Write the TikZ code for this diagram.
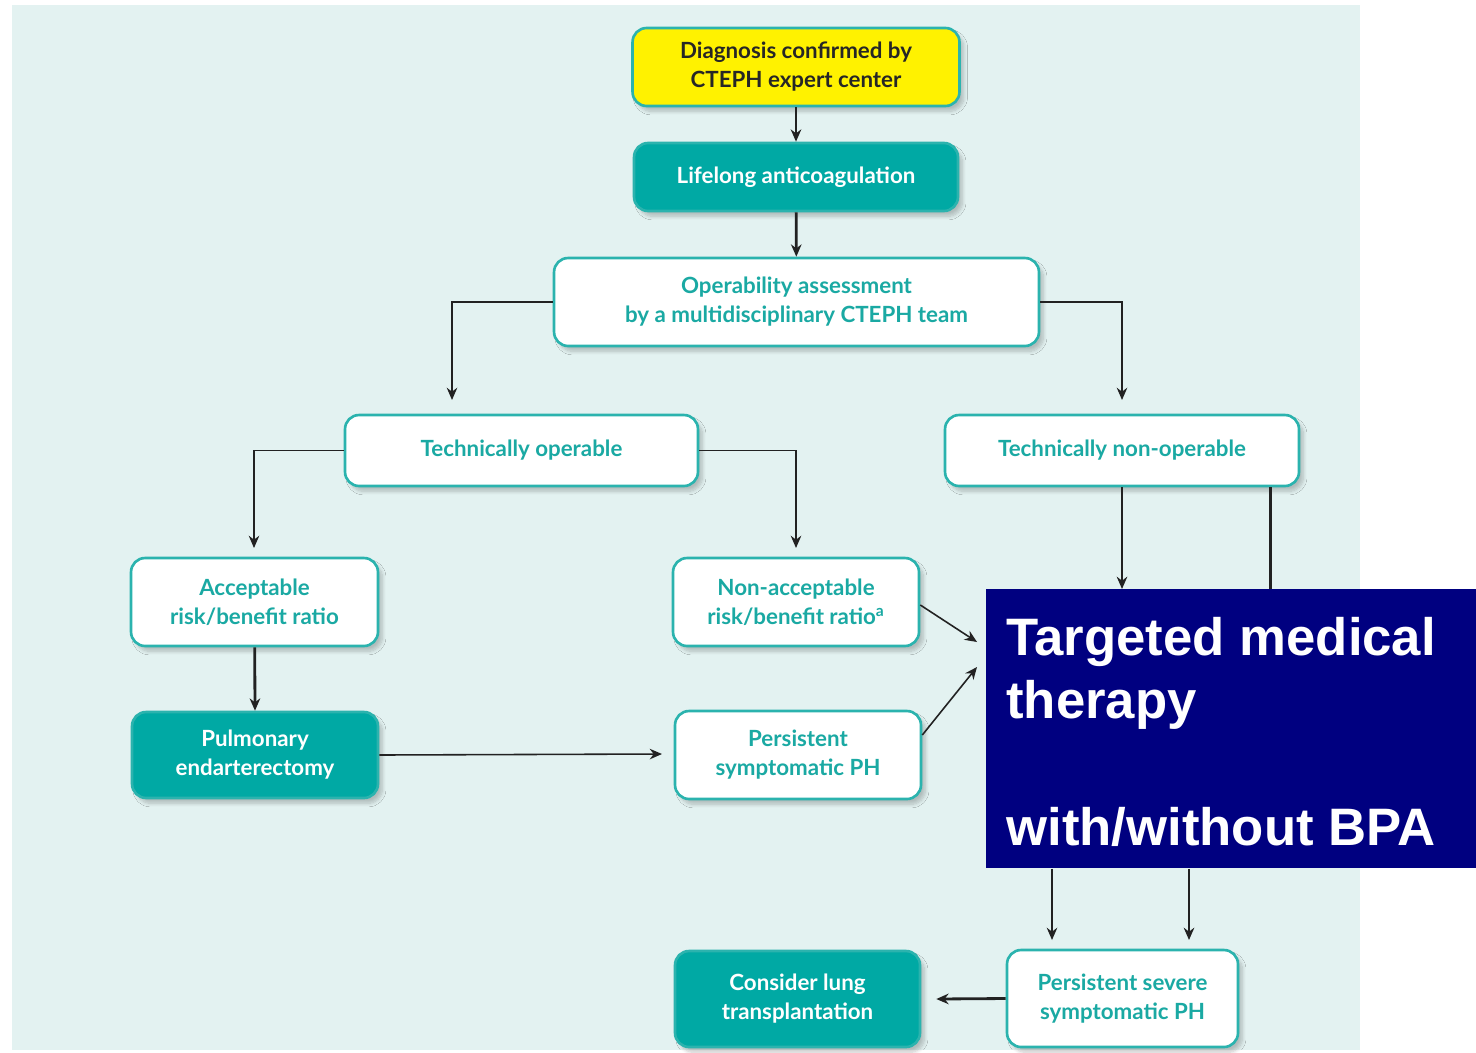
\documentclass[tikz,border=0pt]{standalone}
\usepackage{fontspec}
\setmainfont{Lato}
\newfontfamily\navyfont{Liberation Sans}
\usetikzlibrary{arrows.meta,shadows.blur}
\definecolor{bgc}{HTML}{E3F2F1}
\definecolor{tealf}{HTML}{00A9A4}
\definecolor{tealt}{HTML}{1AA9A3}
\definecolor{tealb}{HTML}{2BB3AE}
\definecolor{yel}{HTML}{FFF200}
\definecolor{navyc}{HTML}{000080}
\definecolor{arr}{HTML}{222222}
\tikzset{
  box/.style={rounded corners=8pt, line width=1.5pt, draw=tealb, align=center, inner sep=0pt,
    font=\bfseries\fontsize{12.7pt}{16.5pt}\selectfont,
    blur shadow={shadow blur steps=8, shadow xshift=2.5pt, shadow yshift=-3pt, shadow opacity=22}},
  wbox/.style={box, fill=white, text=tealt},
  tbox/.style={box, fill=tealf, text=white},
  ybox/.style={box, fill=yel, text=black!85},
  thickarr/.style={draw=arr, line width=1.6pt, -{Stealth[length=7pt,width=6pt]}},
  thinarr/.style={draw=arr, line width=0.9pt, -{Stealth[length=7pt,width=6pt]}},
  thinline/.style={draw=arr, line width=0.9pt},
  thickline/.style={draw=arr, line width=1.6pt},
  navytxt/.style={anchor=base west, inner sep=0pt, text=white, font=\navyfont\bfseries\fontsize{30pt}{36pt}\selectfont}
}
\begin{document}
\begin{tikzpicture}[x=0.02cm, y=-0.02cm]
\useasboundingbox (0,0) rectangle (1476,1052);
\fill[bgc] (12,5) rectangle (1360,1050);

\node[ybox, minimum width=6.54cm, minimum height=1.56cm] (diag) at (796,67) {Diagnosis confirmed by\\CTEPH expert center};
\node[tbox, minimum width=6.48cm, minimum height=1.36cm] (life) at (796,177) {Lifelong anticoagulation};
\node[wbox, minimum width=9.70cm, minimum height=1.76cm] (oper) at (796.5,302) {Operability assessment\\by a multidisciplinary CTEPH team};
\node[wbox, minimum width=7.06cm, minimum height=1.42cm] (top) at (521.5,450.5) {Technically operable};
\node[wbox, minimum width=7.08cm, minimum height=1.42cm] (tnon) at (1122,450.5) {Technically non-operable};
\node[wbox, minimum width=4.94cm, minimum height=1.76cm] (acc) at (254.5,602) {Acceptable\\risk/benefit ratio};
\node[wbox, minimum width=4.92cm, minimum height=1.76cm] (nacc) at (796,602) {Non-acceptable\\risk/benefit ratio\textsuperscript{a}};
\node[tbox, minimum width=4.92cm, minimum height=1.72cm] (pea) at (255,755) {Pulmonary\\endarterectomy};
\node[wbox, minimum width=4.92cm, minimum height=1.76cm] (pers) at (798,755) {Persistent\\symptomatic PH};
\node[tbox, minimum width=4.90cm, minimum height=1.92cm] (lung) at (797.5,999) {Consider lung\\transplantation};
\node[wbox, minimum width=4.62cm, minimum height=1.94cm] (sev) at (1122.5,998.5) {Persistent severe\\symptomatic PH};

\coordinate (opl) at (452,400);
\coordinate (opr) at (1122,400);
\coordinate (tol) at (254,548);
\coordinate (tor) at (796,548);
\coordinate (tm1) at (977,642);
\coordinate (tm2) at (977,667);
\coordinate (pe) at (662,754);

\draw[thickarr] (diag) -- (life);
\draw[thickarr] (life) -- (oper);
\draw[thinarr] (oper.west) -| (opl);
\draw[thinarr] (oper.east) -| (opr);
\draw[thinarr] (top.west) -| (tol);
\draw[thinarr] (top.east) -| (tor);
\draw[thickarr] (acc) -- (pea.north);
\draw[thinarr] (pea.east) -- (pe);
\draw[thinarr] (nacc.east) ++(0,3) -- (tm1);
\draw[thinarr] (pers.east) ++(0,-20) -- (tm2);

\node[fill=navyc, minimum width=9.8cm, minimum height=5.58cm, inner sep=0pt, anchor=north west] (navy) at (986,589) {};
\node[navytxt] (nv1) at (1006,655) {Targeted medical};
\node[navytxt] (nv2) at (1006,718) {therapy};
\node[navytxt] (nv3) at (1006,845) {with/without BPA};

\draw[thickarr] (tnon.south) -- (tnon.south |- navy.north);
\draw[thickline] (tnon.south east) ++(-30,0) coordinate (tnr) -- (tnr |- navy.north);
\draw[thinarr] (navy.south -| 1052,0) -- (1052,940);
\draw[thickarr] (navy.south -| 1189,0) -- (1189,940);
\draw[thickarr] (sev.west) -- ([xshift=0.3cm]lung.east);
\end{tikzpicture}
\end{document}
